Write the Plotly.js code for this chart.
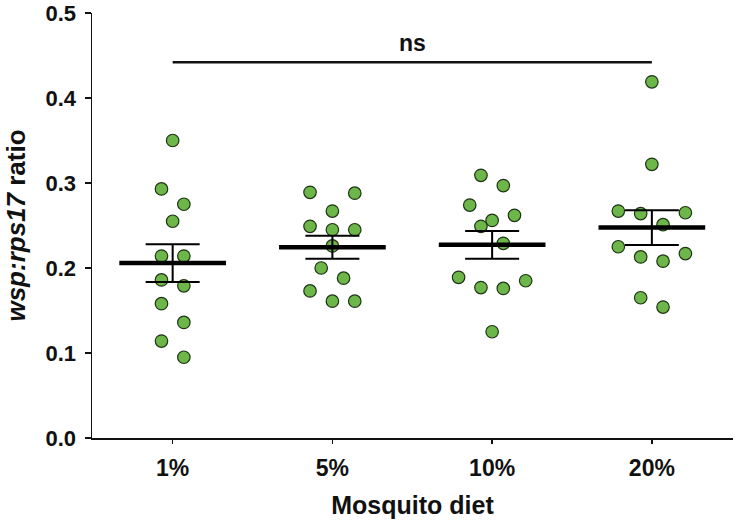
<!DOCTYPE html>
<html>
<head>
<meta charset="utf-8">
<script src="https://cdn.plot.ly/plotly-3.0.1.min.js"></script>
<style>
html,body{margin:0;padding:0;background:#fff;}
#chart{width:735px;height:524px;}
</style>
</head>
<body>
<div id="chart"></div>
<script>
// ---- data ----
const categories = ['1%', '5%', '10%', '20%'];
const diet1pct  = [0.350, 0.293, 0.275, 0.255, 0.214, 0.214, 0.186, 0.179, 0.158, 0.136, 0.114, 0.095];
const diet5pct  = [0.288, 0.289, 0.267, 0.245, 0.245, 0.249, 0.226, 0.200, 0.188, 0.173, 0.161, 0.161];
const diet10pct = [0.309, 0.297, 0.274, 0.262, 0.256, 0.249, 0.229, 0.189, 0.177, 0.176, 0.185, 0.125];
const diet20pct = [0.419, 0.322, 0.265, 0.264, 0.267, 0.251, 0.225, 0.213, 0.208, 0.217, 0.165, 0.154];
const yTickVals = [0, 0.1, 0.2, 0.3, 0.4, 0.5];
const sigLabel = 'ns';
const sigFrom = '1%', sigTo = '20%', sigLevel = 0.442;

const groups = [diet1pct, diet5pct, diet10pct, diet20pct];

// ---- statistics ----
function mean(a){ return a.reduce((s,v)=>s+v,0)/a.length; }
function sem(a){ const m=mean(a); const v=a.reduce((s,x)=>s+(x-m)*(x-m),0)/(a.length-1); return Math.sqrt(v/a.length); }

// ---- beeswarm layout (rows of similar values spread side by side) ----
function swarmOffsets(vals, rowTol, spacing){
  const idx = vals.map((v,i)=>i).sort((a,b)=>vals[b]-vals[a]);
  const off = new Array(vals.length).fill(0);
  let row = [];
  const flush = () => {
    const n = row.length; const slots = [];
    for (let k=0;k<n;k++) slots.push((k-(n-1)/2)*spacing);
    slots.sort((a,b)=> (Math.abs(b)-Math.abs(a)) || (a-b));
    row.forEach((i,k)=>{ off[i]=slots[k]; });
    row = [];
  };
  idx.forEach(i=>{ if (row.length && vals[row[0]]-vals[i] > rowTol) flush(); row.push(i); });
  flush();
  return off;
}

const ptX=[], ptY=[];
groups.forEach((g,gi)=>{
  const off = swarmOffsets(g, 0.022, 0.14);
  g.forEach((v,i)=>{ ptX.push(gi+off[i]); ptY.push(v); });
});

const means = groups.map(mean);
const sems = groups.map(sem);
const meanX=[], meanY=[];
means.forEach((m,i)=>{ meanX.push(i-0.334, i+0.334, null); meanY.push(m, m, null); });

const FONT = 'Liberation Sans, Arial, Helvetica, sans-serif';

const traces = [
  { type:'scatter', mode:'markers', x:ptX, y:ptY, cliponaxis:false, hoverinfo:'y',
    marker:{ size:12.5, color:'#6db649', line:{ color:'#1e3414', width:1.2 } } },
  { type:'scatter', mode:'lines', x:meanX, y:meanY, line:{ color:'#000', width:4.5 }, hoverinfo:'skip' },
  { type:'scatter', mode:'markers', x:[0,1,2,3], y:means, marker:{ size:1, opacity:0 },
    error_y:{ type:'data', array:sems, visible:true, color:'#000', thickness:2, width:27 }, hoverinfo:'skip' },
  { type:'scatter', mode:'lines', x:[categories.indexOf(sigFrom), categories.indexOf(sigTo)], y:[sigLevel, sigLevel],
    line:{ color:'#111', width:2.5 }, hoverinfo:'skip' }
];

const layout = {
  width:735, height:524,
  margin:{ l:92, r:2, t:13, b:86 },
  paper_bgcolor:'#fff', plot_bgcolor:'#fff',
  showlegend:false,
  font:{ family:FONT, color:'#111' },
  xaxis:{
    range:[-0.505, 3.508], tickvals:[0,1,2,3], ticktext:categories,
    ticks:'outside', ticklen:4, tickwidth:1.5, tickcolor:'#111',
    showline:true, linewidth:1.5, linecolor:'#111', showgrid:false, zeroline:false,
    tickfont:{ family:FONT, size:23, weight:700, color:'#111' }, ticklabelstandoff:5,
    title:{ text:'Mosquito diet', font:{ family:FONT, size:25, weight:700, color:'#111' }, standoff:16 }
  },
  yaxis:{
    range:[0, 0.5], tickvals:yTickVals, tickformat:'.1f', ticklabeloverflow:'allow',
    ticks:'outside', ticklen:6, tickwidth:1.5, tickcolor:'#111',
    showline:true, linewidth:1.5, linecolor:'#111', showgrid:false, zeroline:false,
    tickfont:{ family:FONT, size:22, weight:700, color:'#111' }, ticklabelstandoff:4,
    title:{ text:'<i>wsp:rps17</i> ratio', font:{ family:FONT, size:26, weight:700, color:'#111' }, standoff:12 }
  },
  annotations:[
    { x:(categories.indexOf(sigFrom)+categories.indexOf(sigTo))/2, y:sigLevel, xref:'x', yref:'y',
      text:sigLabel, showarrow:false, yanchor:'bottom', yshift:4,
      font:{ family:FONT, size:23, weight:700, color:'#111' } }
  ]
};

Plotly.newPlot('chart', traces, layout, { displayModeBar:false, staticPlot:true });
</script>
</body>
</html>
